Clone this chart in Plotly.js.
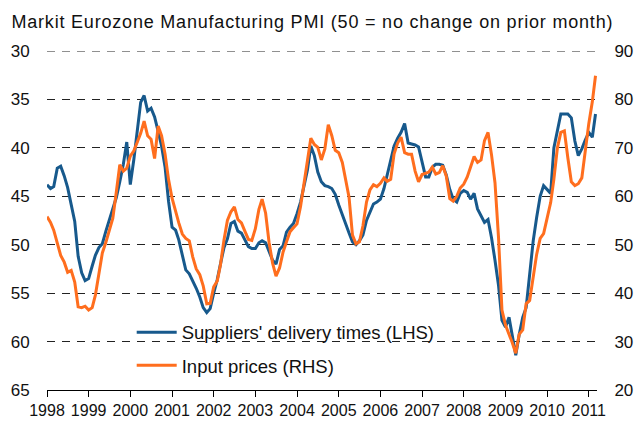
<!DOCTYPE html>
<html>
<head>
<meta charset="utf-8">
<script src="https://cdn.plot.ly/plotly-3.0.1.min.js"></script>
<style>
html,body{margin:0;padding:0;background:#fff;}
#chart{width:637px;height:421px;}
#chart .gtitle{letter-spacing:0.8px;}
</style>
</head>
<body>
<div id="chart"></div>
<script>
// Monthly data, Jan 1998 onwards
var startYear = 1998;
var yearTicks = [1998,1999,2000,2001,2002,2003,2004,2005,2006,2007,2008,2009,2010,2011];
var leftTicks = [30,35,40,45,50,55,60,65];
var rightTicks = [20,30,40,50,60,70,80,90];

// Suppliers' delivery times (LHS, inverted)
var deliveryTimes = [
43.8,44.2,44.0,42.1,41.9,42.9,44.1,46.0,47.6,51.2,52.9,53.7,
53.5,52.2,51.1,50.3,49.9,48.6,47.4,46.4,45.1,43.5,41.7,39.4,
43.8,41.2,38.0,35.3,34.6,36.2,35.9,36.8,38.3,39.8,42.0,45.5,
48.2,48.5,49.5,51.0,52.6,53.0,53.7,54.5,55.4,56.5,57.0,56.6,
55.0,53.6,52.0,50.3,49.4,47.8,47.6,48.6,48.8,49.5,50.2,50.4,
50.4,49.8,49.6,49.8,50.6,51.6,52.0,50.5,50.1,48.7,48.2,47.8,
46.8,45.6,44.0,42.3,39.8,40.8,42.5,43.5,43.9,44.0,44.2,44.8,
45.9,46.9,48.0,48.8,49.7,50.0,49.6,49.0,47.5,46.6,45.8,45.6,
45.3,44.2,42.8,41.2,39.8,39.0,38.4,37.5,39.5,39.6,39.7,39.9,
41.5,43.0,43.0,42.0,41.7,41.7,41.8,42.8,44.3,45.3,45.6,44.7,
44.4,44.6,45.3,44.7,46.3,47.1,47.7,47.4,49.3,51.6,54.2,57.8,
58.5,57.5,59.4,61.4,59.3,57.5,56.5,52.8,49.6,47.2,45.0,43.9,
44.3,44.7,40.0,38.2,36.5,36.5,36.5,36.9,39.3,40.8,40.1,39.2,
38.4,38.9,36.5
];

// Input prices (RHS)
var inputPrices = [
55.8,54.6,53.0,50.3,47.8,46.4,44.3,44.7,42.3,37.2,37.0,37.3,
36.5,37.0,39.6,44.0,48.3,50.5,53.0,55.5,61.0,66.5,65.2,65.8,
68.3,69.4,71.1,73.0,75.5,72.5,71.8,67.8,74.5,72.5,68.7,63.5,
59.6,56.8,54.5,52.2,51.3,50.8,47.5,45.0,43.8,41.5,37.8,37.9,
41.3,42.5,45.8,51.0,55.0,56.8,57.8,55.2,54.5,52.8,51.1,50.9,
53.3,57.3,59.4,56.5,50.5,46.2,43.5,45.2,48.5,50.6,52.7,53.5,
54.3,57.9,62.8,67.5,72.0,70.7,70.1,67.5,69.8,74.8,72.5,69.5,
69.0,67.0,63.5,59.8,52.0,50.2,50.6,53.9,58.8,61.3,62.4,62.0,
62.7,63.8,63.1,63.5,68.8,71.0,72.2,69.0,68.7,68.7,65.2,63.0,
64.5,64.7,65.0,66.0,64.6,64.9,66.3,64.2,59.5,59.0,60.0,61.7,
62.5,64.0,66.0,68.2,67.0,67.5,71.5,73.2,68.5,62.8,51.5,36.5,
33.4,31.7,29.8,27.6,31.5,32.4,37.8,38.5,42.9,48.0,51.3,52.3,
55.5,58.7,63.5,70.0,73.2,73.5,68.0,63.0,62.2,62.6,63.8,69.5,
75.0,79.5,84.9
];

function monthDates(n){
  var out = [];
  for (var i = 0; i < n; i++){
    var y = startYear + Math.floor(i/12);
    var m = (i % 12) + 1;
    out.push(y + '-' + (m < 10 ? '0' + m : m) + '-01');
  }
  return out;
}
var dates = monthDates(deliveryTimes.length);

var blue = '#17598C';
var orange = '#FF6E1E';
var font = 'Liberation Sans, Arial, sans-serif';
var gridColor = '#222';

var traces = [
  {
    x: dates, y: deliveryTimes, type: 'scatter', mode: 'lines',
    name: "Suppliers' delivery times (LHS)", yaxis: 'y',
    line: {color: blue, width: 3}, legendgroup: 'a'
  },
  {
    x: dates, y: inputPrices, type: 'scatter', mode: 'lines',
    name: 'Input prices (RHS)', yaxis: 'y2',
    line: {color: orange, width: 3}, legendgroup: 'b'
  }
];

var tickDates = yearTicks.map(function(y){ return y + '-01-01'; });

var layout = {
  width: 637, height: 421,
  margin: {l: 47, r: 40, t: 51, b: 31, pad: 0},
  paper_bgcolor: '#fff', plot_bgcolor: '#fff',
  showlegend: true,
  font: {family: font, color: '#111'},
  title: {
    text: 'Markit Eurozone Manufacturing PMI (50 = no change on prior month)',
    xref: 'container', yref: 'container', x: 0.018, xanchor: 'left',
    y: 1 - 22/421, yanchor: 'middle',
    font: {family: font, size: 18, color: '#111'}
  },
  xaxis: {
    type: 'date',
    range: ['1998-01-01', '2011-03-14'],
    tickvals: tickDates, ticktext: yearTicks.map(String),
    showgrid: false, zeroline: false,
    showline: true, linecolor: '#000', linewidth: 1,
    ticks: 'outside', ticklen: 6, tickcolor: '#000', tickwidth: 1,
    tickfont: {family: font, size: 16, color: '#111'}
  },
  yaxis: {
    range: [65, 30], tickvals: leftTicks,
    showgrid: true, gridcolor: gridColor, gridwidth: 1, griddash: '8px,7px',
    zeroline: false, showline: false,
    ticks: 'outside', ticklen: 13, tickcolor: 'rgba(0,0,0,0)',
    tickfont: {family: font, size: 17, color: '#111'}
  },
  yaxis2: {
    range: [20, 90], tickvals: rightTicks, overlaying: 'y', side: 'right',
    showgrid: false, zeroline: false, showline: false,
    ticks: 'outside', ticklen: 13, tickcolor: 'rgba(0,0,0,0)',
    tickfont: {family: font, size: 17, color: '#111'}
  },
  legend: {
    x: 0.154, xanchor: 'left', y: 0.225, yanchor: 'top',
    bgcolor: 'rgba(0,0,0,0)', borderwidth: 0,
    font: {family: font, size: 18.5, color: '#111'},
    tracegroupgap: 6, itemwidth: 40
  },
  shapes: [
    {
      type: 'line', xref: 'paper', yref: 'y', layer: 'below',
      x0: 0, x1: 1, y0: leftTicks[0], y1: leftTicks[0],
      line: {color: gridColor, width: 1, dash: '8px,7px'}
    },
    {
      type: 'rect', xref: 'paper', yref: 'paper', layer: 'below',
      x0: 0.097, x1: 0.78, y0: 0.02, y1: 0.22,
      fillcolor: '#fff', line: {width: 0}
    }
  ]
};

Plotly.newPlot('chart', traces, layout, {displayModeBar: false, staticPlot: true});
</script>
</body>
</html>
